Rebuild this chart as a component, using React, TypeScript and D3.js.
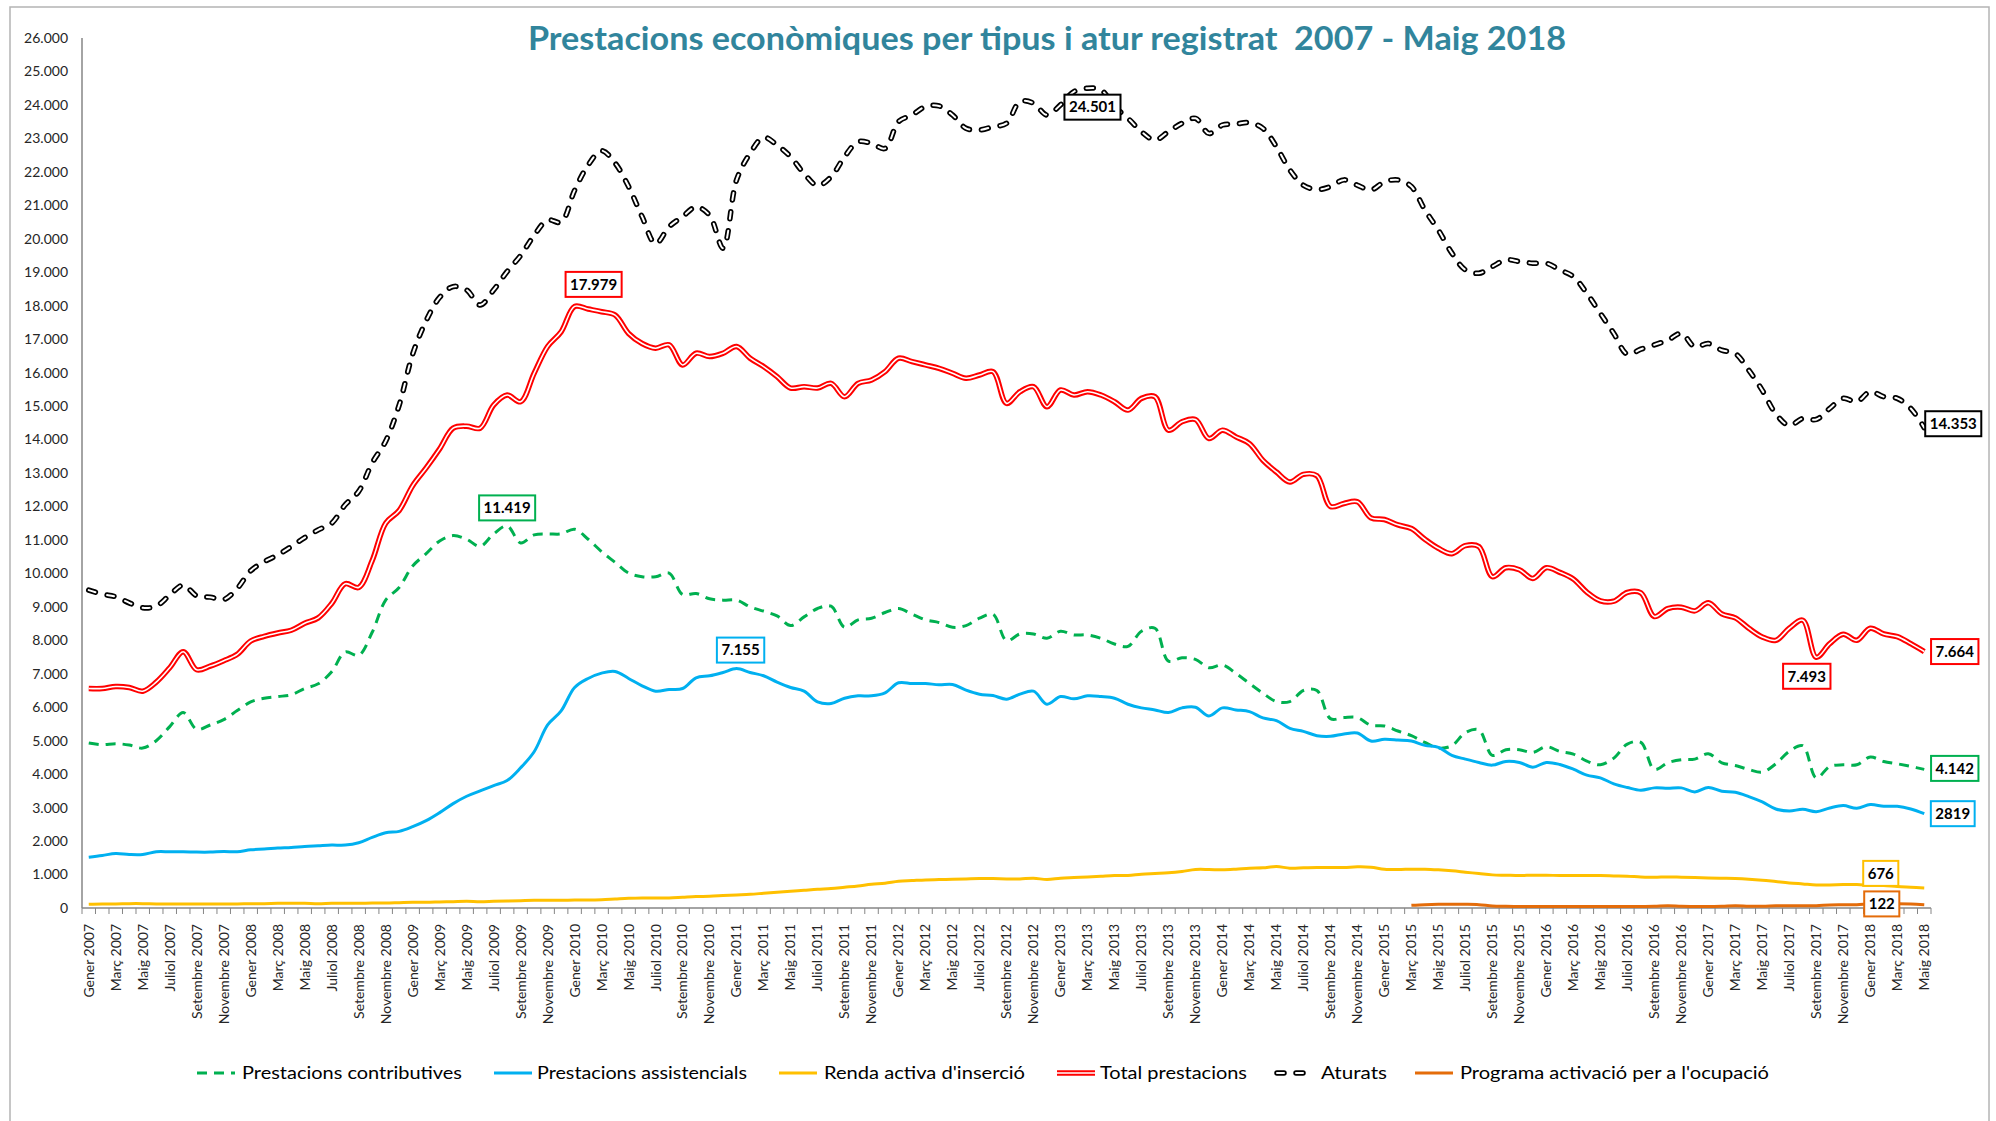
import React, { useEffect, useRef } from 'react';
import * as d3 from 'd3';

const monthNames = ['Gener', 'Febrer', 'Març', 'Abril', 'Maig', 'Juny', 'Juliol', 'Agost', 'Setembre', 'Octubre', 'Novembre', 'Desembre'];
const years = [2007, 2008, 2009, 2010, 2011, 2012, 2013, 2014, 2015, 2016, 2017, 2018];
// Gener 2007 .. Maig 2018
const months = years.flatMap(y => monthNames.map(m => `${m} ${y}`)).slice(0, 137);

const yTicks = [0, 1000, 2000, 3000, 4000, 5000, 6000, 7000, 8000, 9000, 10000, 11000, 12000, 13000,
  14000, 15000, 16000, 17000, 18000, 19000, 20000, 21000, 22000, 23000, 24000, 25000, 26000];

// one row per year
const contributives = [
  4930, 4880, 4910, 4870, 4780, 5000, 5420, 5840, 5340, 5470, 5630, 5900,
  6160, 6270, 6320, 6370, 6560, 6700, 7060, 7650, 7550, 8240, 9200, 9580,
  10220, 10590, 10970, 11130, 11020, 10810, 11180, 11419, 10910, 11150, 11180, 11180,
  11320, 11020, 10650, 10330, 10010, 9900, 9900, 10010, 9370, 9400, 9240, 9200,
  9200, 9000, 8870, 8730, 8440, 8700, 8950, 9020, 8390, 8610, 8660, 8830,
  8950, 8780, 8610, 8530, 8390, 8440, 8660, 8780, 7990, 8190, 8190, 8060,
  8270, 8160, 8160, 8060, 7890, 7820, 8270, 8360, 7380, 7480, 7430, 7180,
  7260, 7010, 6710, 6420, 6170, 6170, 6500, 6500, 5660, 5690, 5690, 5460,
  5440, 5290, 5150, 4950, 4780, 4850, 5240, 5320, 4560, 4730, 4730, 4650,
  4820, 4680, 4600, 4390, 4280, 4480, 4900, 4950, 4140, 4340, 4430, 4450,
  4610, 4340, 4260, 4140, 4060, 4310, 4680, 4850, 3890, 4230, 4280, 4280,
  4510, 4380, 4310, 4230, 4142,
];

const assistencials = [
  1520, 1570, 1630, 1600, 1600, 1680, 1680, 1680, 1670, 1670, 1690, 1680,
  1740, 1760, 1790, 1810, 1840, 1860, 1880, 1880, 1950, 2110, 2250, 2290,
  2430, 2610, 2850, 3120, 3340, 3500, 3660, 3810, 4190, 4670, 5470, 5890,
  6590, 6860, 7020, 7070, 6860, 6640, 6480, 6530, 6560, 6880, 6940, 7040,
  7155, 7040, 6940, 6750, 6590, 6480, 6160, 6110, 6270, 6340, 6340, 6430,
  6730, 6710, 6710, 6670, 6680, 6510, 6390, 6350, 6240, 6390, 6480, 6090,
  6320, 6250, 6340, 6320, 6270, 6090, 5980, 5920, 5840, 5980, 6000, 5740,
  5980, 5920, 5870, 5680, 5600, 5370, 5280, 5150, 5130, 5200, 5230, 4990,
  5040, 5020, 4990, 4860, 4800, 4560, 4450, 4350, 4270, 4380, 4350, 4210,
  4350, 4290, 4150, 3970, 3890, 3710, 3600, 3520, 3590, 3580, 3590, 3470,
  3600, 3490, 3460, 3330, 3170, 2960, 2900, 2950, 2880, 2990, 3060, 2980,
  3090, 3040, 3040, 2960, 2819,
];

const rendaActiva = [
  110, 120, 120, 130, 130, 120, 120, 120, 120, 120, 120, 120,
  130, 130, 140, 140, 140, 130, 140, 140, 140, 150, 150, 160,
  170, 170, 180, 190, 200, 190, 200, 210, 220, 230, 230, 230,
  240, 240, 250, 270, 290, 300, 300, 300, 320, 340, 350, 370,
  390, 410, 440, 470, 500, 530, 560, 580, 620, 660, 710, 740,
  800, 820, 840, 850, 860, 870, 880, 880, 870, 870, 890, 850,
  890, 910, 930, 950, 970, 970, 1010, 1030, 1050, 1090, 1150, 1150,
  1140, 1160, 1190, 1200, 1240, 1190, 1200, 1210, 1210, 1210, 1230, 1220,
  1160, 1150, 1160, 1160, 1140, 1110, 1070, 1030, 990, 980, 970, 980,
  980, 970, 970, 970, 970, 960, 950, 930, 920, 930, 920, 910,
  900, 890, 880, 860, 830, 790, 750, 720, 690, 690, 700, 700,
  680, 676, 640, 620, 600,
];

const totalPrestacions = [
  6560, 6560, 6620, 6590, 6480, 6750, 7180, 7660, 7120, 7230, 7390, 7580,
  7980, 8120, 8220, 8300, 8510, 8670, 9100, 9690, 9580, 10380, 11500, 11880,
  12620, 13150, 13720, 14340, 14400, 14340, 15030, 15330, 15130, 15980, 16780, 17220,
  17979, 17900, 17820, 17720, 17170, 16870, 16730, 16830, 16230, 16580, 16480, 16580,
  16780, 16430, 16180, 15880, 15540, 15580, 15540, 15680, 15280, 15680, 15780, 16030,
  16430, 16330, 16230, 16130, 15980, 15830, 15930, 16030, 15080, 15430, 15580, 14980,
  15480, 15330, 15430, 15330, 15130, 14880, 15230, 15280, 14280, 14530, 14600, 14030,
  14280, 14080, 13880, 13380, 13030, 12730, 12960, 12920, 12000, 12090, 12140, 11660,
  11610, 11450, 11340, 11020, 10750, 10590, 10830, 10800, 9900, 10170, 10110, 9850,
  10170, 10030, 9830, 9440, 9180, 9170, 9430, 9420, 8710, 8950, 8990, 8880,
  9120, 8790, 8670, 8360, 8100, 8000, 8360, 8600, 7493, 7900, 8180, 8000,
  8360, 8190, 8110, 7900, 7664,
];

const aturats = [
  9500, 9380, 9300, 9120, 8970, 9020, 9350, 9650, 9330, 9290, 9220, 9550,
  10080, 10350, 10550, 10800, 11070, 11300, 11500, 12050, 12450, 13300, 13950, 15030,
  16550, 17550, 18250, 18570, 18470, 18020, 18470, 19020, 19500, 20100, 20560, 20500,
  21450, 22200, 22630, 22260, 21560, 20660, 19850, 20360, 20660, 20950, 20700, 19720,
  21760, 22550, 23030, 22800, 22450, 21950, 21590, 21850, 22450, 22900, 22850, 22700,
  23500, 23700, 23950, 23970, 23700, 23300, 23250, 23350, 23450, 24100, 24050, 23700,
  24000, 24400, 24501, 24450, 23950, 23600, 23200, 22950, 23200, 23450, 23600, 23150,
  23400, 23430, 23470, 23300, 22750, 22050, 21600, 21470, 21560, 21760, 21600, 21460,
  21700, 21760, 21560, 20860, 20260, 19570, 19070, 18970, 19170, 19370, 19320, 19270,
  19270, 19070, 18870, 18370, 17770, 17170, 16550, 16700, 16830, 16970, 17170, 16770,
  16870, 16670, 16570, 16070, 15470, 14770, 14420, 14630, 14600, 14930, 15230, 15130,
  15430, 15280, 15230, 14930, 14353,
];

// programa only starts in Març 2015
const programaActivacio = [
  null, null, null, null, null, null, null, null, null, null, null, null,
  null, null, null, null, null, null, null, null, null, null, null, null,
  null, null, null, null, null, null, null, null, null, null, null, null,
  null, null, null, null, null, null, null, null, null, null, null, null,
  null, null, null, null, null, null, null, null, null, null, null, null,
  null, null, null, null, null, null, null, null, null, null, null, null,
  null, null, null, null, null, null, null, null, null, null, null, null,
  null, null, null, null, null, null, null, null, null, null, null, null,
  null, null, 80, 100, 110, 110, 110, 100, 60, 50, 45, 45,
  45, 45, 45, 45, 45, 45, 45, 45, 50, 65, 50, 45,
  45, 50, 70, 55, 50, 65, 70, 70, 70, 90, 95, 100,
  120, 122, 125, 120, 100,
];

const FONT = 'Lato, "Open Sans", "DejaVu Sans", sans-serif';

const seriesList = [
  { name: 'Prestacions contributives', values: contributives, color: '#00B050', kind: 'dash' },
  { name: 'Prestacions assistencials', values: assistencials, color: '#00B0F0', kind: 'solid' },
  { name: "Renda activa d'inserció", values: rendaActiva, color: '#FFC000', kind: 'solid' },
  { name: 'Total prestacions', values: totalPrestacions, color: '#FF0000', kind: 'double' },
  { name: 'Aturats', values: aturats, color: '#000000', kind: 'dashDouble' },
  { name: "Programa activació per a l'ocupació", values: programaActivacio, color: '#E46C0A', kind: 'solid' },
];

// series index, month index, offset of the box centre from the point
const labelSpecs = [
  { s: 4, i: 74, dx: 5, dy: 19, plain: false },
  { s: 3, i: 36, dx: 19, dy: -22, plain: false },
  { s: 0, i: 31, dx: 0, dy: -18, plain: false },
  { s: 1, i: 48, dx: 4, dy: -18.5, plain: false },
  { s: 3, i: 128, dx: -9.5, dy: 19, plain: false },
  { s: 3, i: 136, dx: 30.5, dy: 0, plain: false },
  { s: 0, i: 136, dx: 30.5, dy: -1, plain: false },
  { s: 1, i: 136, dx: 28.5, dy: 0, plain: true },
  { s: 4, i: 136, dx: 29, dy: -4, plain: false },
  { s: 2, i: 133, dx: -3, dy: -12, plain: true },
  { s: 5, i: 133, dx: -2, dy: 0, plain: true },
];

const legendLayout = [
  { sx: 197, tx: 242, tw: 220 },
  { sx: 494, tx: 537, tw: 210 },
  { sx: 779, tx: 824, tw: 201 },
  { sx: 1057, tx: 1100, tw: 147 },
  { sx: 1277, tx: 1321, tw: 66 },
  { sx: 1415, tx: 1460, tw: 309 },
];

const ca = d3.formatLocale({ decimal: ',', thousands: '.', grouping: [3], currency: ['', '€'] });
const fmt = ca.format(',');

function drawStroke(g, d, kind, color, x1?, x2?, yy?) {
  const add = () => (d ? g.append('path').attr('d', d) : g.append('line').attr('x1', x1).attr('x2', x2).attr('y1', yy).attr('y2', yy));
  if (kind === 'double') {
    add().attr('fill', 'none').attr('stroke', color).attr('stroke-width', 5.5).attr('stroke-linejoin', 'round');
    add().attr('fill', 'none').attr('stroke', '#fff').attr('stroke-width', 1.6).attr('stroke-linejoin', 'round');
  } else if (kind === 'dashDouble') {
    add().attr('fill', 'none').attr('stroke', color).attr('stroke-width', 5.5)
      .attr('stroke-dasharray', '7 12').attr('stroke-linecap', 'round');
    add().attr('fill', 'none').attr('stroke', '#fff').attr('stroke-width', 2)
      .attr('stroke-dasharray', '7 12').attr('stroke-linecap', 'round');
  } else if (kind === 'dash') {
    add().attr('fill', 'none').attr('stroke', color).attr('stroke-width', 3).attr('stroke-dasharray', '10 7');
  } else {
    add().attr('fill', 'none').attr('stroke', color).attr('stroke-width', 3).attr('stroke-linejoin', 'round');
  }
}

function Chart() {
  const ref = useRef<SVGSVGElement>(null);

  useEffect(() => {
    const svg = d3.select(ref.current);
    svg.selectAll('*').remove();

    const x = d3.scaleBand().domain(months).range([82, 1931]);
    const cx = (i: number) => (x(months[i]) as number) + x.bandwidth() / 2;
    const y = d3.scaleLinear().domain([0, 26000]).range([908, 38]);

    svg.append('rect').attr('width', 1996).attr('height', 1121).attr('fill', '#fff');
    svg.append('rect').attr('x', 10).attr('y', 7).attr('width', 1979).attr('height', 1130)
      .attr('fill', 'none').attr('stroke', '#B4B4B4').attr('stroke-width', 1.5);

    // title
    svg.append('text')
      .attr('x', 528).attr('y', 50)
      .attr('font-family', FONT).attr('font-size', 32).attr('font-weight', 700)
      .attr('fill', '#31859C')
      .attr('textLength', 1038).attr('lengthAdjust', 'spacingAndGlyphs')
      .style('white-space', 'pre')
      .text('Prestacions econòmiques per tipus i atur registrat  2007 - Maig 2018');

    // y axis
    svg.append('line').attr('x1', 82).attr('x2', 82).attr('y1', 38).attr('y2', 908)
      .attr('stroke', '#868686').attr('stroke-width', 1.5);
    svg.append('g').selectAll('text').data(yTicks).enter().append('text')
      .attr('x', 68).attr('y', d => y(d)).attr('dy', '0.35em')
      .attr('text-anchor', 'end')
      .attr('font-family', FONT).attr('font-size', 14).attr('fill', '#262626')
      .text(d => fmt(d));

    // x axis
    svg.append('line').attr('x1', 82).attr('x2', 1931).attr('y1', 908).attr('y2', 908)
      .attr('stroke', '#868686').attr('stroke-width', 1.5);
    const bounds = months.map(m => x(m) as number).concat([1931]);
    svg.append('g').selectAll('line').data(bounds).enter().append('line')
      .attr('x1', d => d).attr('x2', d => d).attr('y1', 908).attr('y2', 914)
      .attr('stroke', '#868686').attr('stroke-width', 1);
    const shown = months.map((m, i) => ({ m, i })).filter(d => d.i % 2 === 0);
    svg.append('g').selectAll('text').data(shown).enter().append('text')
      .attr('transform', d => `translate(${cx(d.i)},924) rotate(-90)`)
      .attr('dy', '0.35em').attr('text-anchor', 'end')
      .attr('font-family', FONT).attr('font-size', 14).attr('fill', '#262626')
      .text(d => d.m);

    // lines
    const line = d3.line<number | null>()
      .defined(v => v != null)
      .x((v, i) => cx(i))
      .y(v => y(v as number))
      .curve(d3.curveCatmullRom.alpha(0.5));
    const lines = svg.append('g');
    seriesList.forEach(s => {
      drawStroke(lines.append('g'), line(s.values), s.kind, s.color);
    });

    // data labels
    const lab = svg.append('g');
    labelSpecs.forEach(l => {
      const s = seriesList[l.s];
      const v = s.values[l.i] as number;
      const px = cx(l.i) + l.dx;
      const py = y(v) + l.dy;
      const g = lab.append('g');
      const rect = g.append('rect');
      const t = g.append('text')
        .attr('x', px).attr('y', py).attr('dy', '0.35em')
        .attr('text-anchor', 'middle')
        .attr('font-family', FONT).attr('font-size', 15).attr('font-weight', 700).attr('fill', '#000')
        .text(l.plain ? String(v) : fmt(v));
      const w = (t.node() as SVGTextElement).getComputedTextLength() + 9;
      rect.attr('x', px - w / 2).attr('y', py - 12.5).attr('width', w).attr('height', 25)
        .attr('fill', '#fff').attr('stroke', s.color === '#000000' ? '#000' : s.color).attr('stroke-width', 2);
    });

    // legend
    const leg = svg.append('g');
    seriesList.forEach((s, k) => {
      const p = legendLayout[k];
      drawStroke(leg.append('g'), null, s.kind, s.color, p.sx, p.sx + 38, 1073);
      leg.append('text')
        .attr('x', p.tx).attr('y', 1073).attr('dy', '0.35em')
        .attr('font-family', FONT).attr('font-size', 18).attr('fill', '#000')
        .attr('textLength', p.tw).attr('lengthAdjust', 'spacingAndGlyphs')
        .text(s.name);
    });
  }, []);

  return (
    <svg ref={ref} width={1996} height={1121}
      style={{ position: 'absolute', left: 0, top: 0, display: 'block' }} />
  );
}

export default function App() {
  return <Chart />;
}
